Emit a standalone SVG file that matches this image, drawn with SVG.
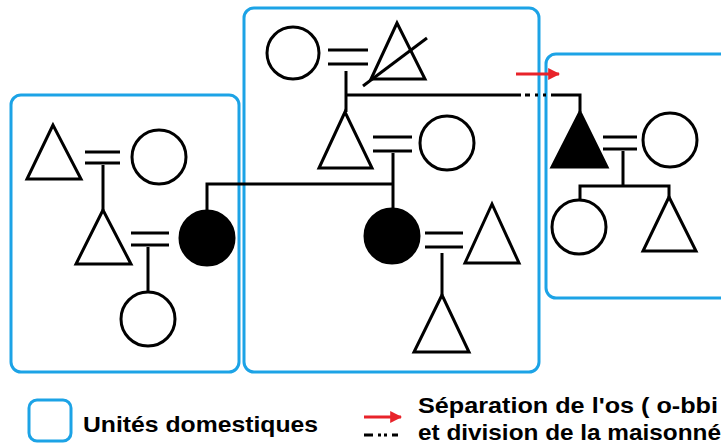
<svg xmlns="http://www.w3.org/2000/svg" width="721" height="446" viewBox="0 0 721 446">
<defs>
<style>
.box{fill:none;stroke:#1CA3E6;stroke-width:3}
.s{fill:none;stroke:#000;stroke-width:3;stroke-linejoin:miter}
.o{fill:#fff;stroke:#000;stroke-width:3}
.f{fill:#000;stroke:#000;stroke-width:3}
.t{font-family:"Liberation Sans","Noto Sans",sans-serif;font-weight:bold;font-size:22px;fill:#000}
</style>
<marker id="ah" viewBox="0 0 10 10" refX="9" refY="5" markerWidth="4" markerHeight="4" orient="auto" markerUnits="strokeWidth">
<path d="M0,0 L10,5 L0,10 z" fill="#E8232A"/>
</marker>
</defs>
<rect width="721" height="446" fill="#fff"/>

<g id="boxes">
<rect id="unit-left" class="box" x="11" y="95" width="228" height="277" rx="10"/>
<rect id="unit-middle" class="box" x="244" y="8" width="295" height="364" rx="10"/>
<rect id="unit-right" class="box" x="546" y="54" width="185" height="244" rx="10"/>
</g>

<g id="connectors">
<line class="s" x1="85" y1="152" x2="120" y2="152"/>
<line class="s" x1="85" y1="163" x2="120" y2="163"/>
<line class="s" x1="103" y1="165" x2="103" y2="210"/>
<line class="s" x1="131" y1="233" x2="169" y2="233"/>
<line class="s" x1="131" y1="245" x2="169" y2="245"/>
<line class="s" x1="148" y1="247" x2="148" y2="292"/>
<polyline class="s" points="207,210 207,184 393,184"/>
<line class="s" x1="328" y1="50" x2="368" y2="50"/>
<line class="s" x1="328" y1="64" x2="368" y2="64"/>
<line class="s" x1="346" y1="71" x2="346" y2="112"/>
<line class="s" x1="346" y1="95" x2="521" y2="95"/>
<line class="s" x1="521" y1="95" x2="556" y2="95" stroke-dasharray="0 4 5 5 3 5 3 5 4 2"/>
<polyline class="s" points="555,95 580,95 580,112"/>
<line class="s" x1="373" y1="137" x2="412" y2="137"/>
<line class="s" x1="373" y1="151" x2="412" y2="151"/>
<line class="s" x1="393" y1="153" x2="393" y2="208"/>
<line class="s" x1="425" y1="233" x2="463" y2="233"/>
<line class="s" x1="425" y1="247" x2="463" y2="247"/>
<line class="s" x1="442" y1="253" x2="442" y2="295"/>
<line class="s" x1="603" y1="137" x2="637" y2="137"/>
<line class="s" x1="603" y1="149" x2="637" y2="149"/>
<line class="s" x1="623" y1="151" x2="623" y2="186"/>
<polyline class="s" points="580,200 580,186 669,186 669,197"/>
<line x1="516" y1="74" x2="559" y2="74" stroke="#E8232A" stroke-width="3" marker-end="url(#ah)"/>
</g>

<g id="node-l1"><polygon class="o" points="53,125 27,179 81,179"/></g>
<g id="node-l2"><circle class="o" cx="159" cy="157" r="27"/></g>
<g id="node-l3"><polygon class="o" points="103,210 76,264 131,264"/></g>
<g id="node-l4"><circle class="f" cx="207" cy="238" r="27"/></g>
<g id="node-l5"><circle class="o" cx="148" cy="319" r="27"/></g>

<g id="node-m1"><circle class="o" cx="293" cy="53" r="26"/></g>
<g id="node-m2"><polygon class="o" points="397,23 371,79 425,79"/><line class="s" x1="363" y1="86" x2="427" y2="38"/></g>
<g id="node-m3"><polygon class="o" points="345,112 319,168 372,168"/></g>
<g id="node-m4"><circle class="o" cx="447" cy="143" r="27"/></g>
<g id="node-m5"><circle class="f" cx="392" cy="236" r="27"/></g>
<g id="node-m6"><polygon class="o" points="492,204 465,263 519,263"/></g>
<g id="node-m7"><polygon class="o" points="442,295 414,352 469,352"/></g>

<g id="node-r1"><polygon class="f" points="580,112 552,167 607,167"/></g>
<g id="node-r2"><circle class="o" cx="670" cy="140" r="27"/></g>
<g id="node-r3"><circle class="o" cx="579" cy="227" r="27"/></g>
<g id="node-r4"><polygon class="o" points="669,197 643,251 696,251"/></g>

<g id="legend">
<rect class="box" x="29" y="400" width="42" height="41" rx="8"/>
<text class="t" x="83" y="432" textLength="235" lengthAdjust="spacingAndGlyphs">Unités domestiques</text>
<line x1="364" y1="417" x2="401" y2="417" stroke="#E8232A" stroke-width="3" marker-end="url(#ah)"/>
<line x1="364" y1="435" x2="398" y2="435" stroke="#000" stroke-width="3" stroke-dasharray="9 5 3 3 3 5 9"/>
<text class="t" x="418" y="413" textLength="300" lengthAdjust="spacingAndGlyphs">Séparation de l'os ( o-bbi</text>
<text class="t" x="418" y="440" textLength="303" lengthAdjust="spacingAndGlyphs">et division de la maisonné</text>
</g>
</svg>
